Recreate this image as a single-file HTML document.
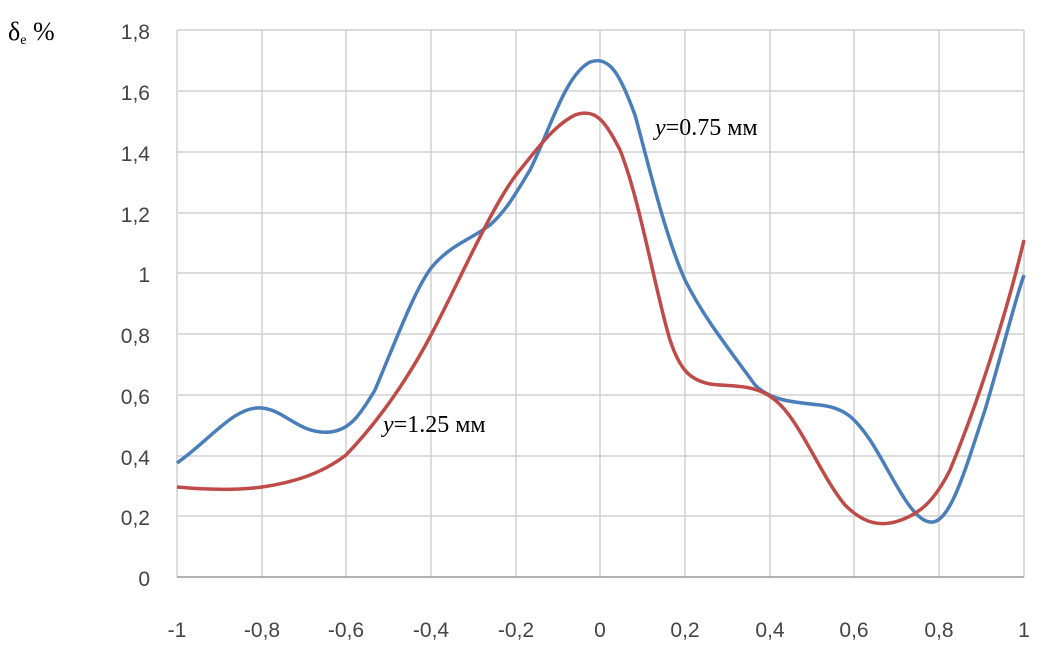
<!DOCTYPE html>
<html><head><meta charset="utf-8"><style>body{margin:0;background:#fff}</style></head><body>
<svg width="1044" height="652" viewBox="0 0 1044 652" xmlns="http://www.w3.org/2000/svg">
<g stroke="#d0d0d0" stroke-width="1.5">
<line x1="177" y1="30" x2="1024" y2="30"/><line x1="177" y1="91" x2="1024" y2="91"/><line x1="177" y1="152" x2="1024" y2="152"/><line x1="177" y1="213" x2="1024" y2="213"/><line x1="177" y1="273" x2="1024" y2="273"/><line x1="177" y1="334" x2="1024" y2="334"/><line x1="177" y1="395" x2="1024" y2="395"/><line x1="177" y1="456" x2="1024" y2="456"/><line x1="177" y1="516" x2="1024" y2="516"/>
<line x1="177" y1="30" x2="177" y2="577"/><line x1="262" y1="30" x2="262" y2="577"/><line x1="346" y1="30" x2="346" y2="577"/><line x1="431" y1="30" x2="431" y2="577"/><line x1="516" y1="30" x2="516" y2="577"/><line x1="600" y1="30" x2="600" y2="577"/><line x1="685" y1="30" x2="685" y2="577"/><line x1="770" y1="30" x2="770" y2="577"/><line x1="854" y1="30" x2="854" y2="577"/><line x1="939" y1="30" x2="939" y2="577"/><line x1="1024" y1="30" x2="1024" y2="577"/>
</g>
<line x1="177" y1="577" x2="1024" y2="577" stroke="#999" stroke-width="1.5"/>
<g font-family="Liberation Sans, sans-serif" font-size="21" fill="#444" text-anchor="end">
<text x="150" y="39">1,8</text><text x="150" y="100">1,6</text><text x="150" y="161">1,4</text><text x="150" y="222">1,2</text><text x="150" y="282">1</text><text x="150" y="343">0,8</text><text x="150" y="404">0,6</text><text x="150" y="465">0,4</text><text x="150" y="525">0,2</text><text x="150" y="586">0</text>
</g>
<g font-family="Liberation Sans, sans-serif" font-size="21" fill="#444" text-anchor="middle">
<text x="177" y="637">-1</text><text x="262" y="637">-0,8</text><text x="346" y="637">-0,6</text><text x="431" y="637">-0,4</text><text x="516" y="637">-0,2</text><text x="600" y="637">0</text><text x="685" y="637">0,2</text><text x="770" y="637">0,4</text><text x="854" y="637">0,6</text><text x="939" y="637">0,8</text><text x="1024" y="637">1</text>
</g>
<text x="8" y="40" font-family="Liberation Serif, serif" font-size="26" fill="#000">δ<tspan font-size="14" dy="4">e</tspan><tspan dy="-4"> %</tspan></text>
<path d="M177,463 C210,440 235,405 262,408 C285,410 300,435 330,432 C350,430 360,415 375,390 C400,330 415,290 431,268 C450,245 470,240 490,225 C505,212 515,195 530,170 C550,130 565,75 590,62 C610,55 620,75 635,115 C650,170 665,235 685,280 C705,320 730,350 755,385 C770,400 790,402 820,405 C845,408 855,418 870,440 C890,470 910,520 930,522 C950,525 965,470 985,410 C1000,360 1015,300 1024,275" fill="none" stroke="#4a7ebb" stroke-width="3.5"/>
<path d="M177,487 C210,490 240,490 262,487 C290,483 320,475 346,455 C380,420 410,375 431,335 C460,280 490,210 516,175 C540,145 555,125 575,115 C595,108 605,120 620,150 C640,200 655,290 670,340 C680,370 690,380 710,384 C730,387 755,383 775,400 C800,420 820,475 845,505 C860,520 875,527 895,522 C920,515 935,500 950,470 C975,410 1005,320 1024,240" fill="none" stroke="#be4b48" stroke-width="3.5"/>
<text x="655" y="135" font-family="Liberation Serif, serif" font-size="24" fill="#000"><tspan font-style="italic">y</tspan>=0.75 мм</text>
<text x="383" y="432" font-family="Liberation Serif, serif" font-size="24" fill="#000"><tspan font-style="italic">y</tspan>=1.25 мм</text>
</svg>
</body></html>
